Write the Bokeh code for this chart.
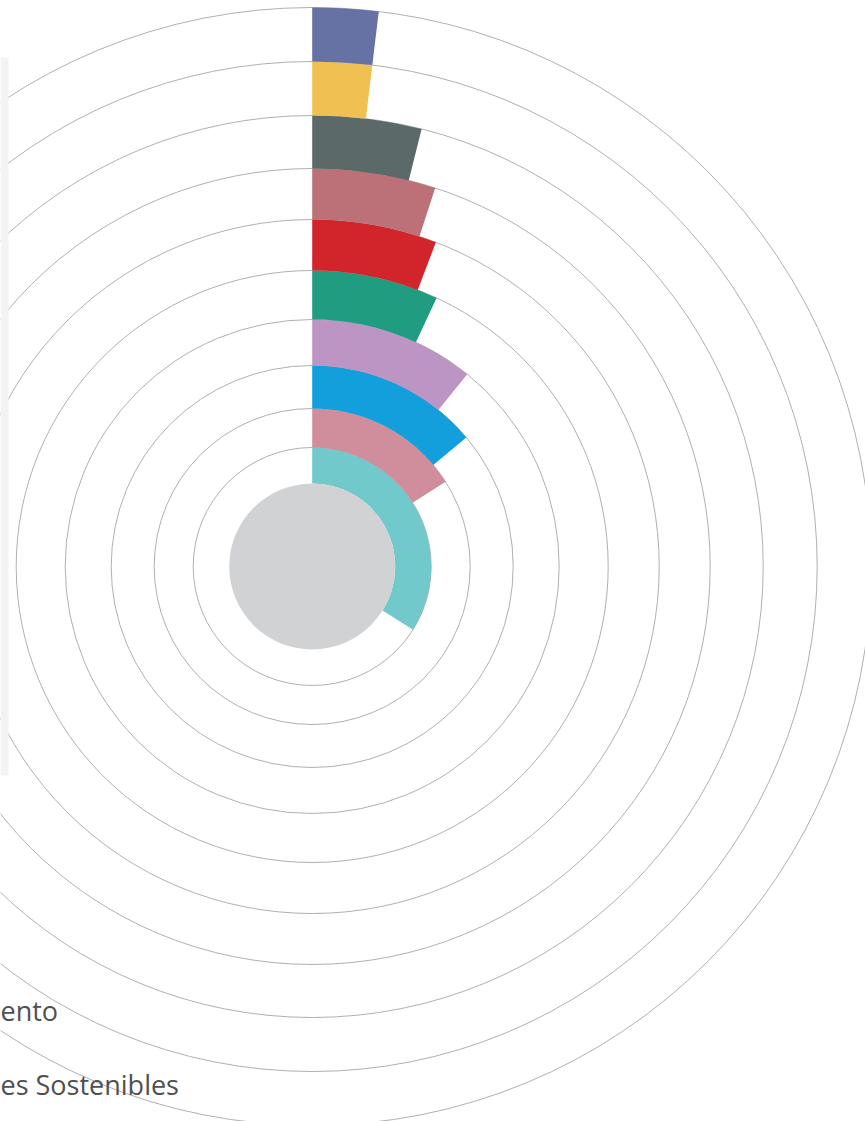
import math
from bokeh.plotting import figure
from bokeh.models import Range1d, BoxAnnotation, ColumnDataSource
from bokeh.core.properties import value
from bokeh.embed import file_html
from bokeh.resources import INLINE

# ---- data (percent share of each category, innermost ring first) ----
shares = [33.9, 16.0, 13.9, 10.8, 6.9, 5.8, 5.0, 3.9, 1.9, 1.9]
colors = ["#72c9cb", "#d08e9c", "#129fdb", "#bd95c4", "#209c80",
          "#d2252b", "#bb7177", "#5b6a69", "#f0c052", "#6672a3"]
legend_fragments = ["ento", "es Sostenibles"]

# ---- layout constants ----
W, H = 865, 1121
CX, CY = 311.7, H - 566
ring_radii = [83, 119, 158, 201, 247, 296, 347, 398, 451, 505, 559]

p = figure(width=W, height=H, output_backend="svg", toolbar_location=None,
           x_range=Range1d(0, W), y_range=Range1d(0, H),
           x_axis_location=None, y_axis_location=None,
           min_border=0, outline_line_color=None, background_fill_color="white")
p.grid.visible = False

# rings
p.circle(x=[CX] * (len(ring_radii) - 1), y=[CY] * (len(ring_radii) - 1),
         radius=ring_radii[1:], fill_color=None, line_color="#b0b0b0", line_width=1)

# bars
n = len(shares)
src = ColumnDataSource(dict(
    x=[CX] * n, y=[CY] * n,
    inner=ring_radii[:n], outer=ring_radii[1:n + 1],
    start=[math.pi / 2] * n,
    end=[math.pi / 2 - s / 100 * 2 * math.pi for s in shares],
    color=colors,
))
p.annular_wedge(x="x", y="y", inner_radius="inner", outer_radius="outer",
                start_angle="start", end_angle="end", direction="clock",
                fill_color="color", line_color=None, source=src)

# center disc
p.circle(x=[CX], y=[CY], radius=[ring_radii[0]], fill_color="#d1d2d4", line_color=None)

# legend panel (cut off at the left)
p.add_layout(BoxAnnotation(left=0, right=8, bottom=H - 775, top=H - 57,
                           fill_color="#f2f3f4", fill_alpha=1, line_color=None))

p.text(x=[0, 0], y=[H - 1010, H - 1084], text=legend_fragments,
       text_font=value("Open Sans"), text_font_size="27px", text_color="#505050",
       text_baseline="alphabetic", text_align="left")

open("out.html", "w").write(file_html(p, INLINE))
